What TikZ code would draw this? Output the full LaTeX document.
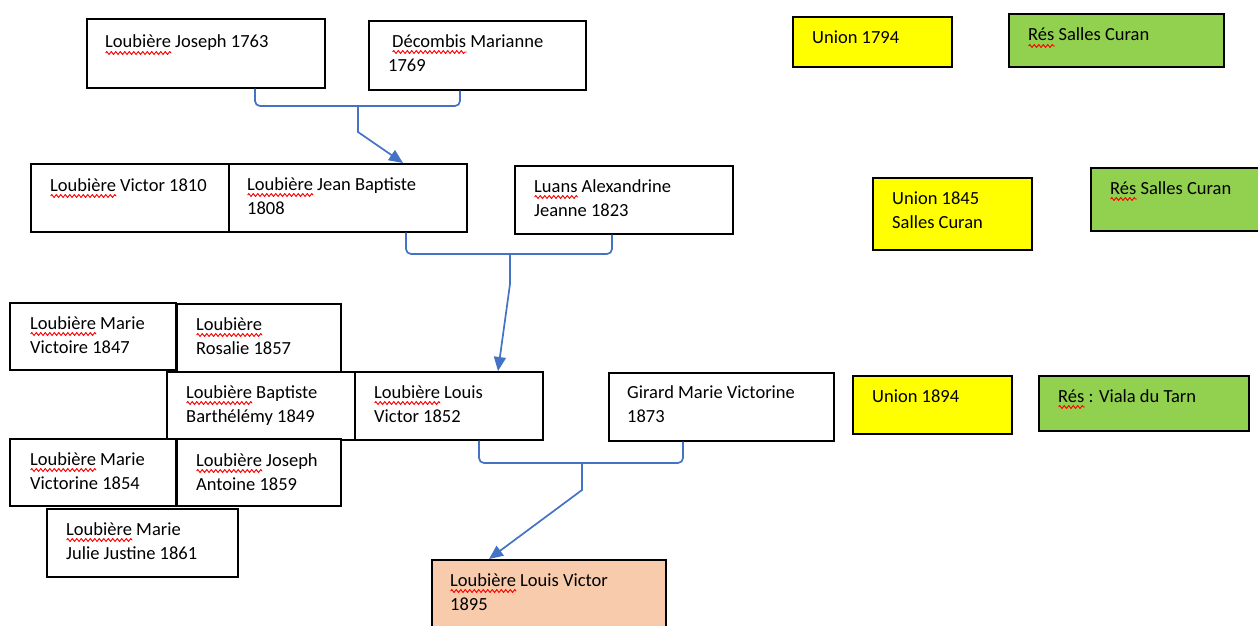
\documentclass[tikz,border=0pt]{standalone}
\usepackage{fontspec}
\setmainfont{Carlito}
\usetikzlibrary{arrows.meta,calc,decorations.pathmorphing}
\definecolor{connblue}{HTML}{4472C4}
\definecolor{unionyellow}{HTML}{FFFF00}
\definecolor{resgreen}{HTML}{92D050}
\definecolor{peach}{HTML}{F8CBAD}
\newlength\spkw
\newcommand\spk[1]{\settowidth\spkw{#1}\rlap{\raisebox{-5pt}{\tikz[baseline=0pt,x=1pt,y=1pt]\draw[red,line width=0.9pt,line join=round,decorate,decoration={zigzag,segment length=4.5pt,amplitude=1.5pt}] (0pt,0pt) -- (\spkw,0pt);}}#1}
\tikzset{
  box/.style={draw=black, line width=1.6pt, fill=white, inner sep=0pt, anchor=north west},
  ubox/.style={box, fill=unionyellow},
  rbox/.style={box, fill=resgreen},
  pbox/.style={box, fill=peach},
  txt/.style={inner sep=0pt, anchor=north west, align=left, font=\fontsize{18.5}{24}\selectfont},
  conn/.style={draw=connblue, line width=1.7pt, rounded corners=5pt},
  arr/.style={draw=connblue, line width=1.7pt, -{Triangle[length=14pt,width=12pt]}},
}
\begin{document}
\begin{tikzpicture}[x=1pt,y=-1pt]
\useasboundingbox[fill=white] (0,0) rectangle (1258,626);
% generation 1
\node[box, minimum width=238pt, minimum height=69pt] (jos) at (86,18) {};
\node[txt] (jos-t) at ($(jos.north west)+(19,13)$) {\strut\spk{Loubière} Joseph 1763};
\node[box, minimum width=217pt, minimum height=69pt] (dec) at (368,20) {};
\node[txt] (dec-t) at ($(dec.north west)+(20,10)$) {\strut\hspace{4pt}\spk{Décombis} Marianne\\1769};
\node[ubox, minimum width=159pt, minimum height=50pt] (u1) at (792,16) {};
\node[txt] (u1-t) at ($(u1.north west)+(20,11)$) {\strut Union 1794};
\node[rbox, minimum width=215pt, minimum height=53pt] (r1) at (1008,13) {};
\node[txt] (r1-t) at ($(r1.north west)+(20,11)$) {\strut\spk{Rés} Salles Curan};
% generation 2
\node[box, minimum width=198pt, minimum height=68pt] (vic) at (30,163) {};
\node[txt] (vic-t) at ($(vic.north west)+(20,11)$) {\strut\spk{Loubière} Victor 1810};
\node[box, minimum width=238pt, minimum height=68pt] (jb) at (228,163) {};
\node[txt] (jb-t) at ($(jb.north west)+(19,10)$) {\strut\spk{Loubière} Jean Baptiste\\1808};
\node[box, minimum width=218pt, minimum height=68pt] (lua) at (514,165) {};
\node[txt] (lua-t) at ($(lua.north west)+(20,10)$) {\strut\spk{Luans} Alexandrine\\Jeanne 1823};
\node[ubox, minimum width=159pt, minimum height=72pt] (u2) at (872,177) {};
\node[txt] (u2-t) at ($(u2.north west)+(20,10)$) {\strut Union 1845\\Salles Curan};
\node[rbox, minimum width=175pt, minimum height=63pt] (r2) at (1090,167) {};
\node[txt] (r2-t) at ($(r2.north west)+(20,10)$) {\strut\spk{Rés} Salles Curan};
% generation 3 (siblings)
\node[box, minimum width=166pt, minimum height=67pt] (mv) at (9,302) {};
\node[txt] (mv-t) at ($(mv.north west)+(21,10)$) {\strut\spk{Loubière} Marie\\Victoire 1847};
\node[box, minimum width=164pt, minimum height=68pt] (ros) at (176,303) {};
\node[txt] (ros-t) at ($(ros.north west)+(20,10)$) {\strut\spk{Loubière}\\Rosalie 1857};
\node[box, minimum width=188pt, minimum height=68pt] (bb) at (166,371) {};
\node[txt] (bb-t) at ($(bb.north west)+(20,10)$) {\strut\spk{Loubière} Baptiste\\Barthélémy 1849};
\node[box, minimum width=188pt, minimum height=68pt] (lv) at (354,371) {};
\node[txt] (lv-t) at ($(lv.north west)+(20,10)$) {\strut\spk{Loubière} Louis\\Victor 1852};
\node[box, minimum width=225pt, minimum height=68pt] (gir) at (608,372) {};
\node[txt] (gir-t) at ($(gir.north west)+(19,9)$) {\strut Girard Marie Victorine\\1873};
\node[ubox, minimum width=159pt, minimum height=58pt] (u3) at (852,375) {};
\node[txt] (u3-t) at ($(u3.north west)+(20,10)$) {\strut Union 1894};
\node[rbox, minimum width=210pt, minimum height=55pt] (r3) at (1038,375) {};
\node[txt] (r3-t) at ($(r3.north west)+(20,10)$) {\strut\spk{Rés} : Viala du Tarn};
\node[box, minimum width=166pt, minimum height=67pt] (mvi) at (9,438) {};
\node[txt] (mvi-t) at ($(mvi.north west)+(21,10)$) {\strut\spk{Loubière} Marie\\Victorine 1854};
\node[box, minimum width=164pt, minimum height=67pt] (ja) at (176,438) {};
\node[txt] (ja-t) at ($(ja.north west)+(20,11)$) {\strut\spk{Loubière} Joseph\\Antoine 1859};
\node[box, minimum width=191pt, minimum height=68pt] (mj) at (46,508) {};
\node[txt] (mj-t) at ($(mj.north west)+(20,10)$) {\strut\spk{Loubière} Marie\\Julie Justine 1861};
% generation 4
\node[pbox, minimum width=234pt, minimum height=80pt] (lv95) at (431,559) {};
\node[txt] (lv95-t) at ($(lv95.north west)+(19,10)$) {\strut\spk{Loubière} Louis Victor\\1895};
% connectors
\coordinate (m1) at (358,106);
\coordinate (k1) at (358,132);
\draw[conn] ($(jos.south west)+(169,0)$) |- (m1) -| ($(dec.south west)+(92,0)$);
\draw[arr] (m1) -- (k1) -- ($(jb.north west)+(175,0)$);
\coordinate (m2) at (510,254);
\coordinate (k2) at (510,284);
\draw[conn] ($(jb.south west)+(178,0)$) |- (m2) -| ($(lua.south west)+(98,0)$);
\draw[arr] (m2) -- (k2) -- ($(lv.north west)+(144,0)$);
\coordinate (m3) at (582,463);
\coordinate (k3) at (582,490);
\draw[conn] ($(lv.south west)+(125,0)$) |- (m3) -| ($(gir.south west)+(75,0)$);
\draw[arr] (m3) -- (k3) -- ($(lv95.north west)+(58,0)$);
\end{tikzpicture}
\end{document}
